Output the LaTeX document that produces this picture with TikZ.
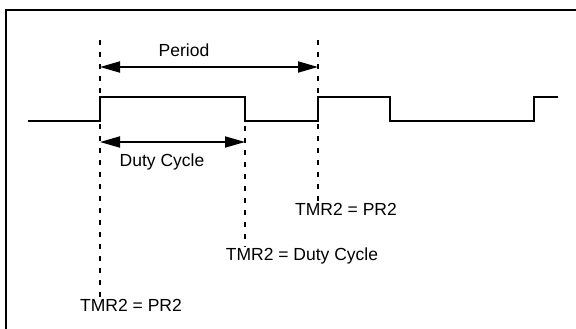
\documentclass[tikz,border=0pt]{standalone}
\usepackage{fontspec}
\setmainfont{Liberation Sans}
\usetikzlibrary{arrows.meta,positioning}
\tikzset{
  frm/.style   = {draw=black, line width=2.4pt},
  wave/.style  = {line width=2.4pt, line join=miter},
  guide/.style = {line width=1.8pt, dash pattern=on 5pt off 7pt},
  span/.style  = {{Triangle[length=20pt,width=11pt]}-{Triangle[length=20pt,width=11pt]},
                  line width=1.8pt},
  lbl/.style   = {font=\fontsize{17.5}{20}\selectfont, inner sep=1pt},
}

\begin{document}
\begin{tikzpicture}[x=1pt,y=-1pt]
  \useasboundingbox (0,0) rectangle (576,329);
  \clip (0,0) rectangle (576,329);
  \draw[frm] (6,10) rectangle (640,380);
  % PWM output
  \draw[wave] (28,121) -- (100,121) -- (100,97) -- (245,97) -- (245,121)
    -- (318,121) -- (318,97) -- (390,97) -- (390,121) -- (534,121)
    -- (534,97) -- (558,97);
  % timer match labels
  \node[lbl] (pr1) at (131,305) {TMR2 = PR2};
  \node[lbl] (dc) at (302,256) {TMR2 = Duty Cycle};
  \node[lbl] (pr2) at (346,209) {TMR2 = PR2};
  \coordinate (g1) at (100,40);
  \coordinate (g2) at (245,126);
  \coordinate (g3) at (318,40);
  \draw[guide] (g1) -- (g1 |- pr1.north);
  \draw[guide] (g2) -- (g2 |- dc.north);
  \draw[guide] (g3) -- (g3 |- pr2.north);
  % spans
  \coordinate (p1) at (100,67);
  \coordinate (p2) at (318,67);
  \coordinate (d1) at (100,142);
  \coordinate (d2) at (245,142);
  \draw[span] (p1) -- (p2);
  \draw[span] (d1) -- (d2);
  \node[lbl] (per) at (184,50) {Period};
  \node[lbl] (duty) at (162,162) {Duty Cycle};
\end{tikzpicture}
\end{document}
